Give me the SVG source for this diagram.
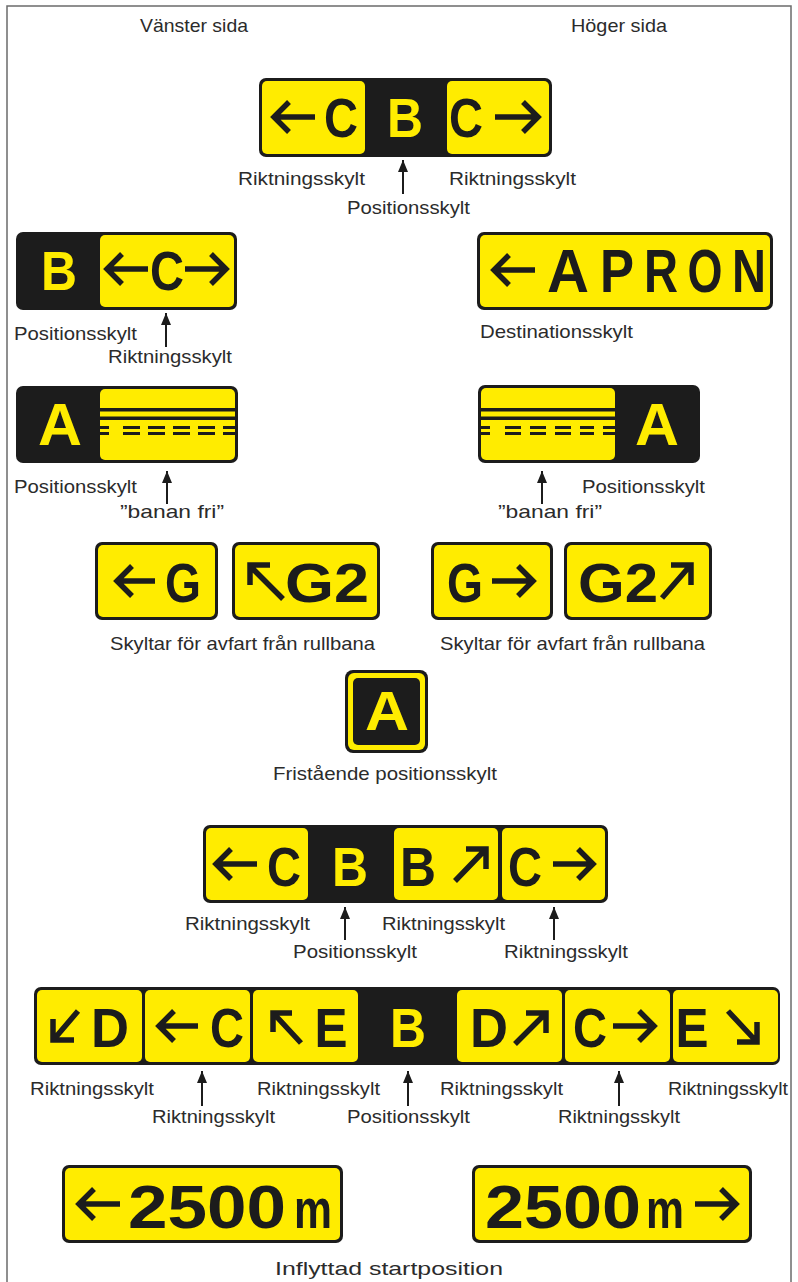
<svg xmlns="http://www.w3.org/2000/svg" width="798" height="1282" viewBox="0 0 798 1282">
<style>
.bg{fill:#ffffff}
.frame{fill:none;stroke:#6b6b6b;stroke-width:1.5}
.k{fill:#1c1c1c}
.y{fill:#ffec00}
.lt{font-family:"Liberation Sans",Arial,sans-serif;font-weight:bold;text-anchor:middle;font-size:56px}
.lk{fill:#1c1c1c}
.ly{fill:#ffec00}
.ar{fill:none;stroke:#1c1c1c;stroke-width:5.5;stroke-linejoin:miter;stroke-linecap:butt}
.lbl{font-family:"Liberation Sans Narrow","Liberation Sans",Arial,sans-serif;font-size:19px;fill:#2b2b2b}
.pt{stroke:#1c1c1c;stroke-width:2;fill:none}
.ph{fill:#1c1c1c}
</style>
<defs>
<marker id="ah" markerUnits="userSpaceOnUse" markerWidth="12" markerHeight="10" refX="12" refY="5" orient="auto" viewBox="0 0 12 10">
<path d="M0,0 L12,5 L0,10 Z" class="ph"/>
</marker>
</defs>
<rect class="bg" x="0" y="0" width="798" height="1282"/>
<rect class="frame" x="7" y="6" width="784" height="1290"/>

<g id="headers">
<text class="lbl" x="140" y="32" textLength="108" lengthAdjust="spacingAndGlyphs">Vänster sida</text>
<text class="lbl" x="571" y="32" textLength="96" lengthAdjust="spacingAndGlyphs">Höger sida</text>
</g>

<!-- Top sign -->
<g id="sign-top">
<rect class="k" x="259" y="78" width="293" height="79" rx="7"/>
<rect class="y" x="262" y="81" width="103" height="73" rx="5"/>
<rect class="y" x="447" y="81" width="102" height="73" rx="5"/>
<path class="ar" d="M315,117 H273 M289,102 L274,117 L289,132"/>
<text class="lt lk" x="341" y="137" textLength="34" lengthAdjust="spacingAndGlyphs">C</text>
<text class="lt ly" x="405" y="137" textLength="36" lengthAdjust="spacingAndGlyphs">B</text>
<text class="lt lk" x="466" y="137" textLength="34" lengthAdjust="spacingAndGlyphs">C</text>
<path class="ar" d="M495,117 H539 M523,102 L538,117 L523,132"/>
<text class="lbl" x="238" y="185" textLength="127" lengthAdjust="spacingAndGlyphs">Riktningsskylt</text>
<text class="lbl" x="449" y="185" textLength="127" lengthAdjust="spacingAndGlyphs">Riktningsskylt</text>
<text class="lbl" x="347" y="214" textLength="123" lengthAdjust="spacingAndGlyphs">Positionsskylt</text>
</g>

<!-- B <-C-> -->
<g id="sign-bc">
<rect class="k" x="16" y="232" width="221" height="78" rx="7"/>
<rect class="y" x="100" y="235" width="134" height="72" rx="5"/>
<text class="lt ly" x="59" y="290" textLength="36" lengthAdjust="spacingAndGlyphs">B</text>
<path class="ar" d="M148,269 H106 M122,254 L107,269 L122,284"/>
<text class="lt lk" x="167" y="290" textLength="34" lengthAdjust="spacingAndGlyphs">C</text>
<path class="ar" d="M185,269 H226 M211,254 L226,269 L211,284"/>
<text class="lbl" x="14" y="340" textLength="123" lengthAdjust="spacingAndGlyphs">Positionsskylt</text>
<text class="lbl" x="108" y="363" textLength="124" lengthAdjust="spacingAndGlyphs">Riktningsskylt</text>
</g>

<!-- APRON -->
<g id="sign-apron">
<rect class="k" x="477" y="232" width="296" height="78" rx="7"/>
<rect class="y" x="480" y="235" width="290" height="72" rx="5"/>
<path class="ar" d="M535,270 H493 M509,255 L494,270 L509,285"/>
<text class="lt lk" style="font-size:61px" x="568" y="292" textLength="42" lengthAdjust="spacingAndGlyphs">A</text>
<text class="lt lk" style="font-size:61px" x="617" y="292" textLength="34" lengthAdjust="spacingAndGlyphs">P</text>
<text class="lt lk" style="font-size:61px" x="661" y="292" textLength="34" lengthAdjust="spacingAndGlyphs">R</text>
<text class="lt lk" style="font-size:61px" x="705" y="292" textLength="35" lengthAdjust="spacingAndGlyphs">O</text>
<text class="lt lk" style="font-size:61px" x="749" y="292" textLength="34" lengthAdjust="spacingAndGlyphs">N</text>
<text class="lbl" x="480" y="338" textLength="153" lengthAdjust="spacingAndGlyphs">Destinationsskylt</text>
</g>

<!-- banan fri left -->
<g id="sign-banan-left">
<rect class="k" x="16" y="386" width="222" height="77" rx="7"/>
<rect class="y" x="100" y="389" width="135" height="71" rx="5"/>
<rect class="k" x="100" y="408" width="135" height="3.5"/>
<rect class="k" x="100" y="416.5" width="135" height="3.5"/>
<g class="k">
<rect x="100" y="426" width="9" height="3"/><rect x="123" y="426" width="17" height="3"/><rect x="148" y="426" width="17" height="3"/><rect x="173" y="426" width="17" height="3"/><rect x="198" y="426" width="17" height="3"/><rect x="223" y="426" width="12" height="3"/>
<rect x="100" y="432" width="9" height="3"/><rect x="123" y="432" width="17" height="3"/><rect x="148" y="432" width="17" height="3"/><rect x="173" y="432" width="17" height="3"/><rect x="198" y="432" width="17" height="3"/><rect x="223" y="432" width="12" height="3"/>
</g>
<text class="lt ly" style="font-size:59px" x="60" y="445" textLength="44" lengthAdjust="spacingAndGlyphs">A</text>
<text class="lbl" x="14" y="493" textLength="123" lengthAdjust="spacingAndGlyphs">Positionsskylt</text>
<text class="lbl" x="120" y="518" textLength="104" lengthAdjust="spacingAndGlyphs">”banan fri”</text>
</g>

<!-- banan fri right -->
<g id="sign-banan-right">
<rect class="k" x="478" y="385" width="222" height="78" rx="7"/>
<rect class="y" x="481" y="388" width="134" height="72" rx="5"/>
<rect class="k" x="481" y="408" width="134" height="3.5"/>
<rect class="k" x="481" y="416.5" width="134" height="3.5"/>
<g class="k">
<rect x="481" y="426" width="9" height="3"/><rect x="505" y="426" width="16" height="3"/><rect x="530" y="426" width="16" height="3"/><rect x="555" y="426" width="16" height="3"/><rect x="580" y="426" width="14" height="3"/><rect x="603" y="426" width="12" height="3"/>
<rect x="481" y="432" width="9" height="3"/><rect x="505" y="432" width="16" height="3"/><rect x="530" y="432" width="16" height="3"/><rect x="555" y="432" width="16" height="3"/><rect x="580" y="432" width="14" height="3"/><rect x="603" y="432" width="12" height="3"/>
</g>
<text class="lt ly" style="font-size:59px" x="657" y="445" textLength="44" lengthAdjust="spacingAndGlyphs">A</text>
<text class="lbl" x="582" y="493" textLength="123" lengthAdjust="spacingAndGlyphs">Positionsskylt</text>
<text class="lbl" x="498" y="518" textLength="104" lengthAdjust="spacingAndGlyphs">”banan fri”</text>
</g>

<!-- G signs left -->
<g id="sign-g-left">
<rect class="k" x="95" y="542" width="123" height="78" rx="7"/>
<rect class="y" x="98" y="545" width="117" height="72" rx="5"/>
<path class="ar" d="M155,581 H116 M132,566 L117,581 L132,596"/>
<text class="lt lk" x="183" y="602" textLength="36" lengthAdjust="spacingAndGlyphs">G</text>
</g>
<g id="sign-g2-left">
<rect class="k" x="232" y="542" width="148" height="78" rx="7"/>
<rect class="y" x="235" y="545" width="142" height="72" rx="5"/>
<path class="ar" d="M283,599 L252,568 M250,585 V565 H270"/>
<text class="lt lk" x="327" y="602" textLength="84" lengthAdjust="spacingAndGlyphs">G2</text>
</g>
<text class="lbl" x="110" y="650" textLength="265" lengthAdjust="spacingAndGlyphs">Skyltar för avfart från rullbana</text>

<!-- G signs right -->
<g id="sign-g-right">
<rect class="k" x="431" y="542" width="122" height="78" rx="7"/>
<rect class="y" x="434" y="545" width="116" height="72" rx="5"/>
<text class="lt lk" x="465" y="602" textLength="36" lengthAdjust="spacingAndGlyphs">G</text>
<path class="ar" d="M492,581 H533 M518,566 L533,581 L518,596"/>
</g>
<g id="sign-g2-right">
<rect class="k" x="564" y="542" width="148" height="78" rx="7"/>
<rect class="y" x="567" y="545" width="142" height="72" rx="5"/>
<text class="lt lk" x="618" y="602" textLength="80" lengthAdjust="spacingAndGlyphs">G2</text>
<path class="ar" d="M662,598 L689,567 M671,565 H691 V585"/>
</g>
<text class="lbl" x="440" y="650" textLength="265" lengthAdjust="spacingAndGlyphs">Skyltar för avfart från rullbana</text>

<!-- standalone A -->
<g id="sign-a-standalone">
<rect class="k" x="345" y="670" width="83" height="83" rx="8"/>
<rect class="y" x="348" y="673" width="77" height="77" rx="6"/>
<rect class="k" x="353" y="678" width="67" height="67" rx="5"/>
<text class="lt ly" x="387" y="730" textLength="44" lengthAdjust="spacingAndGlyphs">A</text>
<text class="lbl" x="273" y="780" textLength="224" lengthAdjust="spacingAndGlyphs">Fristående positionsskylt</text>
</g>

<!-- Row of 4 -->
<g id="sign-row4">
<rect class="k" x="203" y="825" width="405" height="78" rx="7"/>
<rect class="y" x="206" y="828" width="102" height="72" rx="5"/>
<rect class="y" x="394" y="828" width="104" height="72" rx="5"/>
<rect class="y" x="502" y="828" width="103" height="72" rx="5"/>
<path class="ar" d="M257,864 H215 M231,849 L216,864 L231,879"/>
<text class="lt lk" x="284" y="886" textLength="34" lengthAdjust="spacingAndGlyphs">C</text>
<text class="lt ly" x="350" y="886" textLength="36" lengthAdjust="spacingAndGlyphs">B</text>
<text class="lt lk" x="418" y="886" textLength="36" lengthAdjust="spacingAndGlyphs">B</text>
<path class="ar" d="M455,881 L484,851 M466,849 H486 V869"/>
<text class="lt lk" x="525" y="886" textLength="34" lengthAdjust="spacingAndGlyphs">C</text>
<path class="ar" d="M553,864 H593 M578,849 L593,864 L578,879"/>
<text class="lbl" x="185" y="930" textLength="125" lengthAdjust="spacingAndGlyphs">Riktningsskylt</text>
<text class="lbl" x="293" y="958" textLength="124" lengthAdjust="spacingAndGlyphs">Positionsskylt</text>
<text class="lbl" x="382" y="930" textLength="123" lengthAdjust="spacingAndGlyphs">Riktningsskylt</text>
<text class="lbl" x="504" y="958" textLength="124" lengthAdjust="spacingAndGlyphs">Riktningsskylt</text>
</g>

<!-- Row of 7 -->
<g id="sign-row7">
<rect class="k" x="34" y="987" width="746" height="78" rx="7"/>
<rect class="y" x="37" y="990" width="105" height="72" rx="5"/>
<rect class="y" x="145" y="990" width="105" height="72" rx="5"/>
<rect class="y" x="253" y="990" width="105" height="72" rx="5"/>
<rect class="y" x="457" y="990" width="105" height="72" rx="5"/>
<rect class="y" x="565" y="990" width="105" height="72" rx="5"/>
<rect class="y" x="673" y="990" width="105" height="72" rx="5"/>
<path class="ar" d="M78,1011 L55,1038 M53,1019 V1040 H74"/>
<text class="lt lk" x="110" y="1047" textLength="38" lengthAdjust="spacingAndGlyphs">D</text>
<path class="ar" d="M198,1026 H158 M174,1011 L159,1026 L174,1041"/>
<text class="lt lk" x="227" y="1047" textLength="34" lengthAdjust="spacingAndGlyphs">C</text>
<path class="ar" d="M301,1043 L275,1015 M273,1032 V1013 H292"/>
<text class="lt lk" x="331" y="1047" textLength="33" lengthAdjust="spacingAndGlyphs">E</text>
<text class="lt ly" x="408" y="1047" textLength="36" lengthAdjust="spacingAndGlyphs">B</text>
<text class="lt lk" x="489" y="1047" textLength="38" lengthAdjust="spacingAndGlyphs">D</text>
<path class="ar" d="M515,1044 L544,1015 M526,1013 H546 V1033"/>
<text class="lt lk" x="590" y="1047" textLength="34" lengthAdjust="spacingAndGlyphs">C</text>
<path class="ar" d="M613,1026 H654 M639,1011 L654,1026 L639,1041"/>
<text class="lt lk" x="692" y="1047" textLength="33" lengthAdjust="spacingAndGlyphs">E</text>
<path class="ar" d="M728,1011 L755,1040 M737,1042 H757 V1022"/>
<text class="lbl" x="30" y="1095" textLength="124" lengthAdjust="spacingAndGlyphs">Riktningsskylt</text>
<text class="lbl" x="152" y="1123" textLength="123" lengthAdjust="spacingAndGlyphs">Riktningsskylt</text>
<text class="lbl" x="257" y="1095" textLength="123" lengthAdjust="spacingAndGlyphs">Riktningsskylt</text>
<text class="lbl" x="347" y="1123" textLength="123" lengthAdjust="spacingAndGlyphs">Positionsskylt</text>
<text class="lbl" x="440" y="1095" textLength="123" lengthAdjust="spacingAndGlyphs">Riktningsskylt</text>
<text class="lbl" x="558" y="1123" textLength="122" lengthAdjust="spacingAndGlyphs">Riktningsskylt</text>
<text class="lbl" x="668" y="1095" textLength="120" lengthAdjust="spacingAndGlyphs">Riktningsskylt</text>
</g>

<!-- 2500 m -->
<g id="sign-2500-left">
<rect class="k" x="62" y="1165" width="281" height="78" rx="7"/>
<rect class="y" x="65" y="1168" width="275" height="72" rx="5"/>
<path class="ar" d="M120,1204 H78 M94,1189 L79,1204 L94,1219"/>
<text class="lt lk" style="font-size:62px" x="207" y="1228" textLength="158" lengthAdjust="spacingAndGlyphs">2500</text>
<text class="lt lk" x="313" y="1228" textLength="38" lengthAdjust="spacingAndGlyphs">m</text>
</g>
<g id="sign-2500-right">
<rect class="k" x="472" y="1165" width="280" height="78" rx="7"/>
<rect class="y" x="475" y="1168" width="274" height="72" rx="5"/>
<text class="lt lk" style="font-size:62px" x="563" y="1228" textLength="156" lengthAdjust="spacingAndGlyphs">2500</text>
<text class="lt lk" x="665" y="1228" textLength="38" lengthAdjust="spacingAndGlyphs">m</text>
<path class="ar" d="M695,1204 H736 M721,1189 L736,1204 L721,1219"/>
</g>
<text class="lbl" x="275" y="1275" textLength="228" lengthAdjust="spacingAndGlyphs">Inflyttad startposition</text>

<!-- pointer connectors -->
<g id="connectors">
<line class="pt" x1="403" y1="194" x2="403" y2="160" marker-end="url(#ah)"/>
<line class="pt" x1="166" y1="347" x2="166" y2="313" marker-end="url(#ah)"/>
<line class="pt" x1="167" y1="504" x2="167" y2="471" marker-end="url(#ah)"/>
<line class="pt" x1="542" y1="504" x2="542" y2="471" marker-end="url(#ah)"/>
<line class="pt" x1="345" y1="940" x2="345" y2="907" marker-end="url(#ah)"/>
<line class="pt" x1="554" y1="940" x2="554" y2="907" marker-end="url(#ah)"/>
<line class="pt" x1="202" y1="1106" x2="202" y2="1071" marker-end="url(#ah)"/>
<line class="pt" x1="408" y1="1106" x2="408" y2="1071" marker-end="url(#ah)"/>
<line class="pt" x1="619" y1="1106" x2="619" y2="1071" marker-end="url(#ah)"/>
</g>
</svg>
